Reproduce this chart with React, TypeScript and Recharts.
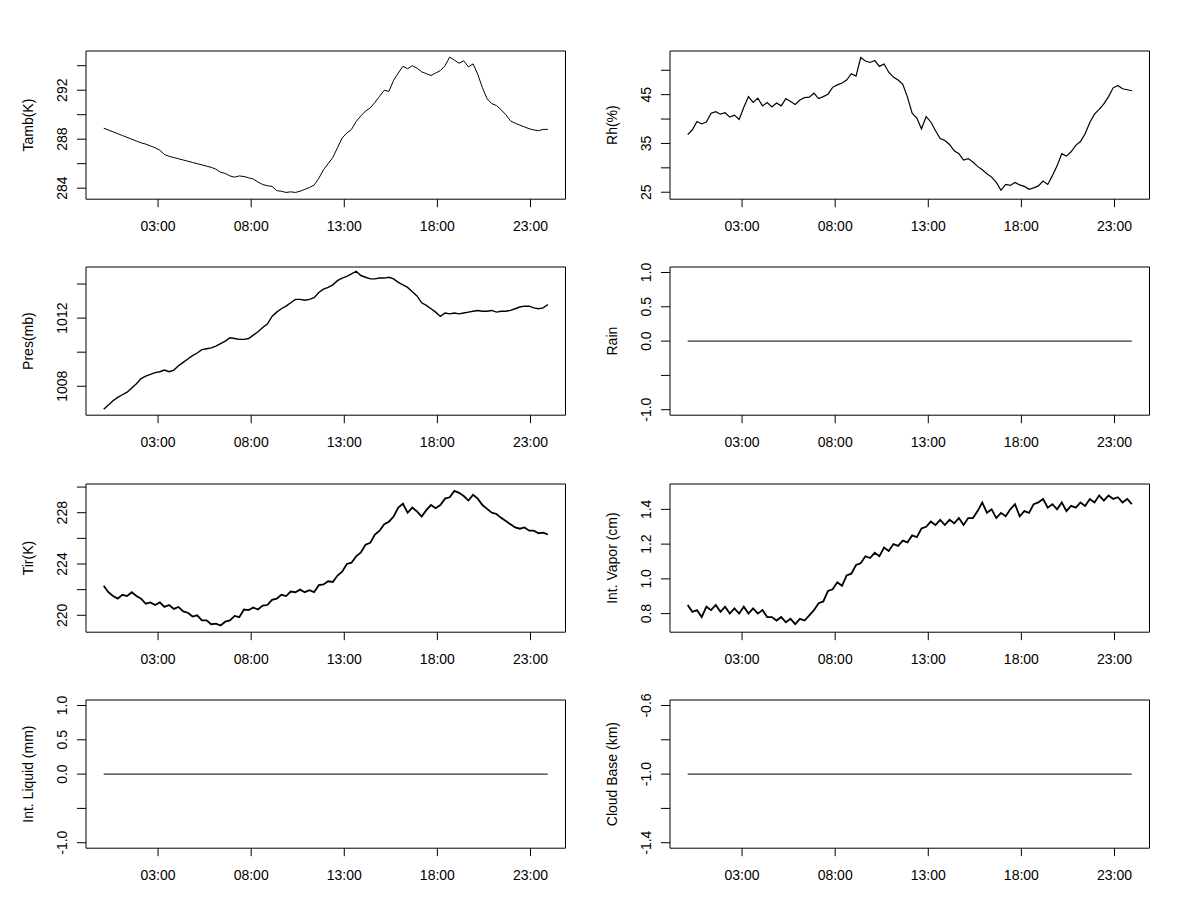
import React from 'react';
import { LineChart, Line, XAxis, YAxis, ReferenceArea } from 'recharts';

const FONT = '"Liberation Sans", Arial, sans-serif';

// sampling grid (hours of day) shared by the measured series
const hours = Array.from({ length: 96 }, (_, i) => +(0.08 + i * 0.2511).toFixed(3));
const flatHours = [0.08, 23.93];

const xTicks = [3, 8, 13, 18, 23];
const xDomain = [-0.87, 24.88];

const tamb = [
  288.9, 288.75, 288.6, 288.45, 288.3, 288.15, 288.0, 287.85, 287.7, 287.6, 287.45, 287.3,
  287.1, 286.75, 286.6, 286.5, 286.4, 286.3, 286.2, 286.1, 286.0, 285.9, 285.8, 285.7,
  285.55, 285.3, 285.2, 285.0, 284.9, 285.0, 284.95, 284.85, 284.75, 284.5, 284.3, 284.2,
  284.15, 283.8, 283.75, 283.65, 283.7, 283.65, 283.75, 283.9, 284.05, 284.25, 284.8, 285.5,
  286.0, 286.5, 287.3, 288.1, 288.5, 288.8, 289.45, 289.9, 290.3, 290.55, 291.0, 291.5,
  292.0, 291.9, 292.8, 293.4, 293.95, 293.75, 294.0, 293.8, 293.5, 293.35, 293.2, 293.4,
  293.6, 294.0, 294.7, 294.45, 294.2, 294.4, 293.9, 294.15, 293.3, 292.2, 291.3, 290.9,
  290.75, 290.4, 290.0, 289.5, 289.3, 289.15, 289.0, 288.85, 288.75, 288.7, 288.8, 288.8,
];

const rh = [
  36.8, 37.8, 39.5, 39.0, 39.4, 41.2, 41.5, 41.0, 41.3, 40.4, 40.8, 39.9,
  42.4, 44.6, 43.4, 44.3, 42.7, 43.4, 42.5, 43.3, 42.7, 44.2, 43.6, 43.0,
  43.9, 44.4, 44.5, 45.3, 44.2, 44.6, 45.1, 46.5, 47.0, 47.4, 48.0, 49.3,
  48.8, 52.6, 51.9, 51.6, 52.0, 50.8, 51.3, 49.6, 48.6, 48.0, 47.1, 44.5,
  41.2, 40.2, 38.0, 40.5, 39.4, 37.6, 36.0, 35.6, 34.8, 33.5, 32.9, 31.6,
  31.9, 31.2, 30.3, 29.6, 28.8, 28.1, 27.0, 25.4, 26.6, 26.4, 27.0, 26.5,
  26.2, 25.6, 25.9, 26.3, 27.3, 26.6, 28.4, 30.4, 32.9, 32.4, 33.3, 34.6,
  35.4, 37.0, 39.3, 41.0, 42.0, 43.1, 44.6, 46.4, 46.9, 46.2, 46.0, 45.8,
];

const pres = [
  1006.65, 1006.9, 1007.15, 1007.35, 1007.5, 1007.65, 1007.9, 1008.15, 1008.45, 1008.6, 1008.7, 1008.8,
  1008.85, 1008.95, 1008.85, 1008.95, 1009.2, 1009.4, 1009.6, 1009.8, 1009.95, 1010.15, 1010.2, 1010.25,
  1010.35, 1010.5, 1010.65, 1010.85, 1010.8, 1010.75, 1010.75, 1010.8, 1011.0, 1011.2, 1011.45, 1011.65,
  1012.1, 1012.35, 1012.55, 1012.7, 1012.9, 1013.1, 1013.1, 1013.05, 1013.1, 1013.2, 1013.5, 1013.7,
  1013.8, 1013.95, 1014.2, 1014.35, 1014.45, 1014.6, 1014.75, 1014.5, 1014.4, 1014.3, 1014.3, 1014.35,
  1014.35, 1014.4, 1014.3, 1014.1, 1013.95, 1013.8, 1013.55, 1013.3, 1012.9, 1012.75, 1012.55, 1012.35,
  1012.1, 1012.3, 1012.25, 1012.3, 1012.25, 1012.3, 1012.35, 1012.4, 1012.45, 1012.4, 1012.4, 1012.45,
  1012.35, 1012.4, 1012.4, 1012.45, 1012.55, 1012.65, 1012.7, 1012.7, 1012.6, 1012.55, 1012.6, 1012.8,
];

const tir = [
  222.3, 221.8, 221.5, 221.3, 221.6, 221.5, 221.8, 221.5, 221.3, 220.9, 221.0, 220.8,
  221.0, 220.65, 220.8, 220.5, 220.65, 220.3, 220.2, 219.9, 220.0, 219.6, 219.6, 219.3,
  219.35, 219.2, 219.5, 219.6, 219.95, 219.85, 220.45, 220.4, 220.6, 220.45, 220.75, 220.8,
  221.2, 221.3, 221.6, 221.5, 221.85, 221.8, 222.0, 221.8, 221.95, 221.8, 222.35, 222.4,
  222.65, 222.6, 223.1, 223.4, 224.0, 224.1, 224.6, 224.9, 225.5, 225.65, 226.3, 226.6,
  227.1, 227.3, 227.7, 228.4, 228.7, 228.0, 228.4, 228.1, 227.7, 228.2, 228.6, 228.35,
  228.6, 229.1, 229.2, 229.7, 229.55, 229.3, 228.95, 229.4, 229.1, 228.6, 228.3, 228.0,
  227.9, 227.6, 227.35, 227.1, 226.85, 226.75, 226.85, 226.6, 226.6, 226.4, 226.45, 226.3,
];

const vapor = [
  0.85, 0.81, 0.82, 0.78, 0.84, 0.82, 0.85, 0.81, 0.84, 0.8, 0.83, 0.8,
  0.84, 0.8, 0.83, 0.8, 0.82, 0.78, 0.78, 0.76, 0.78, 0.75, 0.77, 0.74,
  0.77, 0.76, 0.79, 0.82, 0.86, 0.87, 0.93, 0.94, 0.98, 0.96, 1.02, 1.03,
  1.08, 1.09, 1.13, 1.12, 1.15, 1.13, 1.18, 1.16, 1.2, 1.19, 1.22, 1.21,
  1.25, 1.24, 1.29, 1.3, 1.33, 1.31, 1.34, 1.31, 1.34, 1.32, 1.35, 1.31,
  1.35, 1.35, 1.39, 1.44, 1.38, 1.4, 1.35, 1.38, 1.36, 1.4, 1.43, 1.36,
  1.39, 1.38, 1.43, 1.44, 1.46, 1.41, 1.43, 1.4, 1.44, 1.39, 1.42, 1.41,
  1.44, 1.42, 1.46, 1.44, 1.48, 1.45, 1.48, 1.46, 1.47, 1.44, 1.46, 1.43,
];

const rain = [0, 0];
const liquid = [0, 0];
const cloudBase = [-1, -1];

const fmtHour = (h: number) => `${String(h).padStart(2, '0')}:00`;

const YTick = (props: any) => {
  const { x, y, payload, labels, decimals } = props;
  const v = payload.value;
  if (!labels.some((l: number) => Math.abs(l - v) < 1e-9)) return null;
  return (
    <text
      x={x}
      y={y}
      transform={`rotate(-90 ${x} ${y})`}
      textAnchor="middle"
      fontSize={14}
      fontFamily={FONT}
      fill="#000"
    >
      {v.toFixed(decimals)}
    </text>
  );
};

const YTitle = (props: any) => {
  const { viewBox, text } = props;
  const cx = viewBox.x + viewBox.width - 57.5;
  const cy = viewBox.y + viewBox.height / 2;
  return (
    <text
      x={cx}
      y={cy}
      transform={`rotate(-90 ${cx} ${cy})`}
      textAnchor="middle"
      dominantBaseline="central"
      fontSize={14}
      fontFamily={FONT}
      fill="#000"
    >
      {text}
    </text>
  );
};

const Panel = ({ col, row, title, xs, ys, domain, ticks, labels, decimals, lw = 1 }: any) => {
  const data = xs.map((t: number, i: number) => ({ t, v: ys[i] }));
  const left = (col === 0 ? 86.3 : 669.5) - 80;
  const top = 51 + row * 216.45 - 10;
  return (
    <div style={{ position: 'absolute', left, top }}>
      <LineChart width={580} height={200} data={data} margin={{ top: 10, right: 20.5, bottom: 11.8, left: 20 }}>
        <XAxis
          type="number"
          dataKey="t"
          domain={xDomain}
          ticks={xTicks}
          interval={0}
          allowDataOverflow
          tickFormatter={fmtHour}
          axisLine={false}
          tickSize={8}
          tickMargin={14}
          height={30}
          stroke="#000"
          tick={{ fill: '#000', fontSize: 14, fontFamily: FONT }}
        />
        <YAxis
          type="number"
          domain={domain}
          ticks={ticks}
          interval={0}
          allowDataOverflow
          axisLine={false}
          tickSize={9}
          tickMargin={10}
          width={60}
          stroke="#000"
          tick={<YTick labels={labels} decimals={decimals} />}
          label={<YTitle text={title} />}
        />
        <ReferenceArea
          x1={xDomain[0]}
          x2={xDomain[1]}
          y1={domain[0]}
          y2={domain[1]}
          fill="none"
          fillOpacity={0}
          stroke="#000"
          strokeWidth={1}
          strokeOpacity={1}
          ifOverflow="visible"
        />
        <Line type="linear" dataKey="v" stroke="#000" strokeWidth={lw} dot={false} isAnimationActive={false} />
      </LineChart>
    </div>
  );
};

export default function App() {
  return (
    <div style={{ position: 'absolute', left: 0, top: 0, width: 1200, height: 900, background: '#fff' }}>
      <Panel col={0} row={0} title="Tamb(K)" xs={hours} ys={tamb} domain={[283.1, 295.2]}
        ticks={[284, 286, 288, 290, 292, 294]} labels={[284, 288, 292]} decimals={0} />
      <Panel col={1} row={0} title="Rh(%)" xs={hours} ys={rh} domain={[23.57, 53.95]}
        ticks={[25, 30, 35, 40, 45, 50]} labels={[25, 35, 45]} decimals={0} lw={1.2} />
      <Panel col={0} row={1} title="Pres(mb)" xs={hours} ys={pres} domain={[1006.3, 1015.0]}
        ticks={[1008, 1010, 1012, 1014]} labels={[1008, 1012]} decimals={0} lw={1.4} />
      <Panel col={1} row={1} title="Rain" xs={flatHours} ys={rain} domain={[-1.08, 1.08]}
        ticks={[-1, -0.5, 0, 0.5, 1]} labels={[-1, 0, 0.5, 1]} decimals={1} />
      <Panel col={0} row={2} title="Tir(K)" xs={hours} ys={tir} domain={[218.68, 230.24]}
        ticks={[220, 222, 224, 226, 228, 230]} labels={[220, 224, 228]} decimals={0} lw={1.8} />
      <Panel col={1} row={2} title="Int. Vapor (cm)" xs={hours} ys={vapor} domain={[0.693, 1.546]}
        ticks={[0.8, 1.0, 1.2, 1.4]} labels={[0.8, 1.0, 1.2, 1.4]} decimals={1} lw={1.8} />
      <Panel col={0} row={3} title="Int. Liquid (mm)" xs={flatHours} ys={liquid} domain={[-1.08, 1.08]}
        ticks={[-1, -0.5, 0, 0.5, 1]} labels={[-1, 0, 0.5, 1]} decimals={1} />
      <Panel col={1} row={3} title="Cloud Base (km)" xs={flatHours} ys={cloudBase} domain={[-1.432, -0.568]}
        ticks={[-1.4, -1.2, -1.0, -0.8, -0.6]} labels={[-1.4, -1.0, -0.6]} decimals={1} />
    </div>
  );
}
